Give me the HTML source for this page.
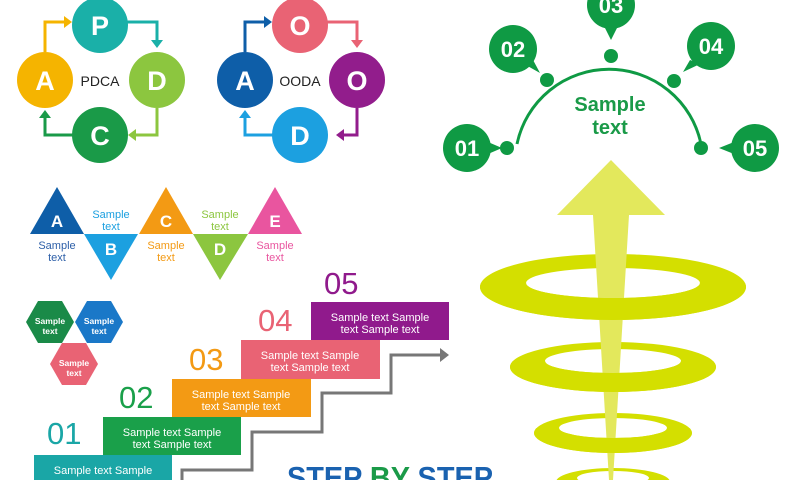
<!DOCTYPE html>
<html><head><meta charset="utf-8"><style>html,body{margin:0;padding:0;background:#fff}svg{display:block}text{font-family:"Liberation Sans",sans-serif}</style></head><body>
<svg width="790" height="480" viewBox="0 0 790 480" xmlns="http://www.w3.org/2000/svg">
<defs>
<clipPath id="lowA"><rect x="0" y="283" width="790" height="200"/></clipPath>
<clipPath id="lowB"><rect x="0" y="361" width="790" height="200"/></clipPath>
<clipPath id="lowC"><rect x="0" y="428" width="790" height="200"/></clipPath>
</defs>
<g fill="none" stroke-width="3">
<path d="M45,52 V22 H64" stroke="#f5b400"/><path d="M64,16 L72,22 L64,28z" fill="#f5b400" stroke="none"/>
<path d="M127,22 H157 V40" stroke="#1ab0a8"/><path d="M151,40 L157,48 L163,40z" fill="#1ab0a8" stroke="none"/>
<path d="M157,108 V135 H136" stroke="#8cc63f"/><path d="M136,129 L128,135 L136,141z" fill="#8cc63f" stroke="none"/>
<path d="M73,135 H45 V118" stroke="#1a9a48"/><path d="M39,118 L45,110 L51,118z" fill="#1a9a48" stroke="none"/>
<path d="M245,52 V22 H264" stroke="#0e5ea8"/><path d="M264,16 L272,22 L264,28z" fill="#0e5ea8" stroke="none"/>
<path d="M327,22 H357 V40" stroke="#e96374"/><path d="M351,40 L357,48 L363,40z" fill="#e96374" stroke="none"/>
<path d="M357,108 V135 H344" stroke="#921d8c"/><path d="M344,129 L336,135 L344,141z" fill="#921d8c" stroke="none"/>
<path d="M273,135 H245 V118" stroke="#1ca0e0"/><path d="M239,118 L245,110 L251,118z" fill="#1ca0e0" stroke="none"/>
</g>
<g font-size="27" font-weight="bold" fill="#fff" text-anchor="middle">
<circle cx="100" cy="25" r="28" fill="#1ab0a8"/><text x="100" y="35">P</text>
<circle cx="157" cy="80" r="28" fill="#8cc63f"/><text x="157" y="90">D</text>
<circle cx="100" cy="135" r="28" fill="#1a9a48"/><text x="100" y="145">C</text>
<circle cx="45" cy="80" r="28" fill="#f5b400"/><text x="45" y="90">A</text>
<circle cx="300" cy="25" r="28" fill="#e96374"/><text x="300" y="35">O</text>
<circle cx="357" cy="80" r="28" fill="#921d8c"/><text x="357" y="90">O</text>
<circle cx="300" cy="135" r="28" fill="#1ca0e0"/><text x="300" y="145">D</text>
<circle cx="245" cy="80" r="28" fill="#0e5ea8"/><text x="245" y="90">A</text>
</g>
<text x="100" y="86" font-size="14" text-anchor="middle" fill="#222">PDCA</text>
<text x="300" y="86" font-size="14" text-anchor="middle" fill="#222">OODA</text>
<g font-size="17" font-weight="bold" fill="#fff" text-anchor="middle">
<path d="M30,234 L57,187 L84,234z" fill="#0e5ea8"/><text x="57" y="227">A</text>
<path d="M84,234 L138,234 L111,280z" fill="#1ca0e0"/><text x="111" y="255">B</text>
<path d="M139,234 L166,187 L193,234z" fill="#f39a14"/><text x="166" y="227">C</text>
<path d="M193,234 L248,234 L220,280z" fill="#8cc63f"/><text x="220" y="255">D</text>
<path d="M248,234 L275,187 L302,234z" fill="#e9559f"/><text x="275" y="227">E</text>
</g>
<g font-size="11" text-anchor="middle">
<text x="57" y="249" fill="#2d5fa8">Sample</text><text x="57" y="261" fill="#2d5fa8">text</text>
<text x="111" y="218" fill="#1ca0e0">Sample</text><text x="111" y="230" fill="#1ca0e0">text</text>
<text x="166" y="249" fill="#f39a14">Sample</text><text x="166" y="261" fill="#f39a14">text</text>
<text x="220" y="218" fill="#8cc63f">Sample</text><text x="220" y="230" fill="#8cc63f">text</text>
<text x="275" y="249" fill="#e9559f">Sample</text><text x="275" y="261" fill="#e9559f">text</text>
</g>
<g font-size="8.5" font-weight="bold" fill="#fff" text-anchor="middle">
<path d="M26,322 L38,301 L62,301 L74,322 L62,343 L38,343z" fill="#1a8a48"/><text x="50" y="324">Sample</text><text x="50" y="334">text</text>
<path d="M75,322 L87,301 L111,301 L123,322 L111,343 L87,343z" fill="#1a78c8"/><text x="99" y="324">Sample</text><text x="99" y="334">text</text>
<path d="M50,364 L62,343 L86,343 L98,364 L86,385 L62,385z" fill="#e96374"/><text x="74" y="366">Sample</text><text x="74" y="376">text</text>
</g>
<path d="M182,480 V470 H252 V432 H322 V393 H391 V355 H442" fill="none" stroke="#777" stroke-width="3"/>
<path d="M440,348 L449,355 L440,362z" fill="#777"/>
<g font-size="11" fill="#fff" text-anchor="middle">
<rect x="34" y="455" width="138" height="30" fill="#1aa6a6"/><text x="103" y="474">Sample text Sample</text>
<rect x="103" y="417" width="138" height="38" fill="#1aa04a"/><text x="172" y="436">Sample text Sample</text><text x="172" y="448">text   Sample text</text>
<rect x="172" y="379" width="139" height="38" fill="#f39a14"/><text x="241" y="398">Sample text Sample</text><text x="241" y="410">text   Sample text</text>
<rect x="241" y="340" width="139" height="39" fill="#e96374"/><text x="310" y="359">Sample text Sample</text><text x="310" y="371">text   Sample text</text>
<rect x="311" y="302" width="138" height="38" fill="#901a8c"/><text x="380" y="321">Sample text Sample</text><text x="380" y="333">text   Sample text</text>
</g>
<g font-size="31">
<text x="47" y="444" fill="#1aa6a6">01</text>
<text x="119" y="408" fill="#1aa04a">02</text>
<text x="189" y="370" fill="#f39a14">03</text>
<text x="258" y="331" fill="#e96374">04</text>
<text x="324" y="294" fill="#901a8c">05</text>
</g>
<text x="287" y="488" font-size="31" font-weight="bold" textLength="206" lengthAdjust="spacingAndGlyphs" fill="#1a62b0">STEP <tspan fill="#1a9a48">BY</tspan> STEP</text>
<path d="M517,144 A94,94 0 0 1 701,144" fill="none" stroke="#0f9a44" stroke-width="3"/>
<g fill="#0f9a44">
<circle cx="507" cy="148" r="7"/><circle cx="547" cy="80" r="7"/><circle cx="611" cy="56" r="7"/><circle cx="674" cy="81" r="7"/><circle cx="701" cy="148" r="7"/>
<circle cx="467" cy="148" r="24"/><path d="M488,142 L502,148 L488,154z"/>
<circle cx="513" cy="49" r="24"/><path d="M524,64 L540,73 L532,58z"/>
<circle cx="611" cy="5" r="24"/><path d="M604,26 L611,40 L618,26z"/>
<circle cx="711" cy="46" r="24"/><path d="M690,60 L683,72 L700,64z"/>
<circle cx="755" cy="148" r="24"/><path d="M734,142 L719,148 L734,154z"/>
</g>
<g font-size="22" font-weight="bold" fill="#fff" text-anchor="middle">
<text x="467" y="156">01</text><text x="513" y="57">02</text><text x="611" y="13">03</text><text x="711" y="54">04</text><text x="755" y="156">05</text>
</g>
<text x="610" y="111" font-size="20" font-weight="bold" fill="#1a9a48" text-anchor="middle">Sample</text>
<text x="610" y="134" font-size="20" font-weight="bold" fill="#1a9a48" text-anchor="middle">text</text>
<g fill="#d4df00" fill-rule="evenodd">
<path d="M480,287 a133,33 0 1 0 266,0 a133,33 0 1 0 -266,0z M526,283 a87,15 0 1 0 174,0 a87,15 0 1 0 -174,0z"/>
<path d="M510,367 a103,25 0 1 0 206,0 a103,25 0 1 0 -206,0z M545,361 a68,12 0 1 0 136,0 a68,12 0 1 0 -136,0z"/>
<path d="M534,433 a79,20 0 1 0 158,0 a79,20 0 1 0 -158,0z M559,428 a54,10 0 1 0 108,0 a54,10 0 1 0 -108,0z"/>
<path d="M556,482 a57,14 0 1 0 114,0 a57,14 0 1 0 -114,0z M577,478 a36,7 0 1 0 72,0 a36,7 0 1 0 -72,0z"/>
</g>
<path d="M611,160 L665,215 L629,215 L613,480 L609,480 L593,215 L557,215z" fill="#e3e85c"/>
<g fill="#d4df00" fill-rule="evenodd">
<path clip-path="url(#lowA)" d="M480,287 a133,33 0 1 0 266,0 a133,33 0 1 0 -266,0z M526,283 a87,15 0 1 0 174,0 a87,15 0 1 0 -174,0z"/>
<path clip-path="url(#lowB)" d="M510,367 a103,25 0 1 0 206,0 a103,25 0 1 0 -206,0z M545,361 a68,12 0 1 0 136,0 a68,12 0 1 0 -136,0z"/>
<path clip-path="url(#lowC)" d="M534,433 a79,20 0 1 0 158,0 a79,20 0 1 0 -158,0z M559,428 a54,10 0 1 0 108,0 a54,10 0 1 0 -108,0z"/>
</g>
</svg>
</body></html>
